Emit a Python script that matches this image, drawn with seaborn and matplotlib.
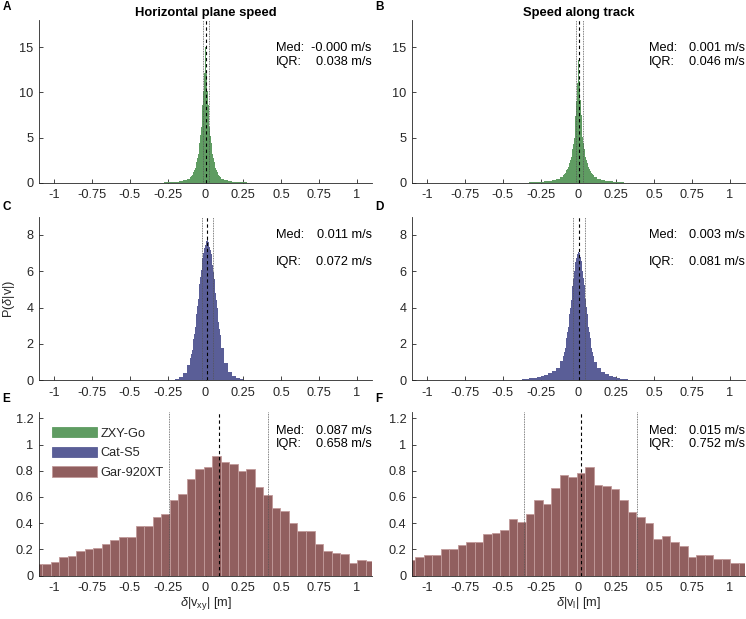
import numpy as np
import pandas as pd
import matplotlib
matplotlib.use("Agg")
import matplotlib.pyplot as plt
import seaborn as sns
from matplotlib.patches import Patch
from matplotlib.ticker import FuncFormatter

# ---------------- data ----------------
devices = ["ZXY-Go", "Cat-S5", "Gar-920XT"]
col_titles = ["Horizontal plane speed", "Speed along track"]
panel_letters = ["A", "B", "C", "D", "E", "F"]

# fine-bin histograms (64 bins, ascending x): 12 tail bins, 40 core bins, 12 tail bins
fine_edges = np.concatenate([np.linspace(-0.4, -0.1, 13)[:-1],
                             np.linspace(-0.1, 0.1, 41)[:-1],
                             np.linspace(0.1, 0.4, 13)])

zxy_horizontal = [0.002, 0.003, 0.005, 0.01, 0.02, 0.03, 0.05, 0.08, 0.13, 0.2, 0.3, 0.45,
                  0.60, 0.71, 0.84, 0.99, 1.17, 1.38, 1.63, 1.93, 2.28, 2.69, 3.18, 3.76, 4.44, 5.25, 6.20, 7.32, 8.65, 10.2, 12.1,
                  15.0, 14.2,
                  12.0, 10.1, 8.6, 7.3, 6.2, 5.2, 4.4, 3.75, 3.2, 2.7, 2.3, 1.95, 1.65, 1.4, 1.18, 1.0, 0.85, 0.72, 0.61,
                  0.45, 0.3, 0.2, 0.13, 0.08, 0.05, 0.03, 0.02, 0.01, 0.005, 0.003, 0.002]
zxy_track = [0.01, 0.015, 0.02, 0.03, 0.05, 0.08, 0.12, 0.17, 0.24, 0.33, 0.46, 0.65,
             0.85, 0.95, 1.07, 1.2, 1.35, 1.52, 1.72, 1.95, 2.2, 2.5, 2.8, 3.2, 3.7, 4.3, 5.0, 6.1, 7.4, 9.0, 11.0,
             13.6, 14.5,
             11.3, 9.2, 7.5, 6.2, 5.1, 4.35, 3.75, 3.25, 2.85, 2.5, 2.2, 1.95, 1.72, 1.5, 1.33, 1.18, 1.05, 0.93, 0.83,
             0.64, 0.44, 0.31, 0.22, 0.15, 0.09, 0.05, 0.03, 0.015, 0.008, 0.004, 0.002]
cat_horizontal = [0.002, 0.003, 0.004, 0.005, 0.007, 0.01, 0.02, 0.04, 0.09, 0.2, 0.42, 0.85,
                  1.22, 1.43, 1.68, 1.95, 2.25, 2.57, 2.91, 3.28, 3.66, 4.06, 4.46, 4.88, 5.28, 5.68, 6.06, 6.41, 6.74, 7.02, 7.26,
                  7.45, 7.59,
                  7.68, 7.72, 7.6, 7.5, 7.35, 7.18, 6.95, 6.67, 6.34, 5.98, 5.60, 5.20, 4.80, 4.39, 3.98, 3.58, 3.20, 2.84, 2.50,
                  1.75, 0.95, 0.45, 0.22, 0.11, 0.05, 0.02, 0.01, 0.005, 0.003, 0.002, 0.001]
cat_track = [0.04, 0.06, 0.08, 0.1, 0.13, 0.18, 0.22, 0.3, 0.38, 0.5, 0.7, 1.05,
             1.35, 1.55, 1.8, 2.05, 2.35, 2.65, 2.95, 3.3, 3.65, 4.0, 4.4, 4.8, 5.2, 5.6, 6.0, 6.25, 6.5, 6.75, 6.95,
             7.05, 7.2,
             7.0, 6.8, 6.55, 6.3, 6.0, 5.65, 5.25, 4.85, 4.45, 4.05, 3.65, 3.3, 2.95, 2.65, 2.35, 2.05, 1.8, 1.55, 1.35,
             1.0, 0.65, 0.45, 0.33, 0.25, 0.18, 0.12, 0.08, 0.05, 0.03, 0.02, 0.01]

# coarse-bin histograms (40 bins)
coarse_edges = np.linspace(-1.1344, -1.1344 + 40 * 0.0562, 41)
gar_horizontal = [0.09, 0.09, 0.108, 0.141, 0.147, 0.185, 0.203, 0.21, 0.24, 0.275,
                  0.295, 0.295, 0.377, 0.382, 0.449, 0.472, 0.575, 0.626, 0.736, 0.813,
                  0.826, 0.916, 0.865, 0.855, 0.797, 0.81, 0.673, 0.618, 0.518, 0.492,
                  0.402, 0.343, 0.337, 0.245, 0.187, 0.17, 0.162, 0.1, 0.12, 0.11]
gar_track = [0.12, 0.145, 0.155, 0.155, 0.205, 0.20, 0.235, 0.255, 0.255, 0.32,
             0.325, 0.345, 0.43, 0.41, 0.47, 0.58, 0.55, 0.665, 0.765, 0.755,
             0.78, 0.825, 0.69, 0.685, 0.66, 0.58, 0.485, 0.445, 0.40, 0.28,
             0.30, 0.26, 0.225, 0.145, 0.155, 0.16, 0.125, 0.13, 0.10, 0.10]

medians = [0.0, 0.001, 0.011, 0.003, 0.087, 0.015]
q1_vals = [-0.018, -0.019, -0.024, -0.036, -0.244, -0.362]
q3_vals = [0.020, 0.027, 0.048, 0.045, 0.414, 0.389]
med_labels = ["-0.000", "0.001", "0.011", "0.003", "0.087", "0.015"]
iqr_labels = ["0.038", "0.046", "0.072", "0.081", "0.658", "0.752"]

x_ticks = [-1, -0.75, -0.5, -0.25, 0, 0.25, 0.5, 0.75, 1]

# ---------------- style ----------------
sns.set_theme(style="ticks")
plt.rcParams['font.family'] = ['Liberation Sans', 'DejaVu Sans']
plt.rcParams['axes.unicode_minus'] = False
plt.rcParams['mathtext.fontset'] = 'custom'
plt.rcParams['mathtext.rm'] = 'Liberation Sans'
plt.rcParams['mathtext.it'] = 'Liberation Sans:italic'

FS = 9.2
dark = "#262626"
colors = ["#5f9c62", "#5a5e97", "#915f5f"]
edge_colors = ["#5f9c62", "#5a5e97", "#c29a9a"]

W, H = 746, 619
fig = plt.figure(figsize=(W / 100, H / 100), dpi=100)

col_left = [39, 412]
ax_w = 333
rows = [(20, 182.7), (216.7, 380.3), (411.7, 575.7)]
ylims = [(0, 18), (0, 9), (0, 1.25)]
yticks = [[0, 5, 10, 15], [0, 2, 4, 6, 8], [0, 0.2, 0.4, 0.6, 0.8, 1, 1.2]]
text_y = [(0.83, 0.744), (0.89, 0.723), (0.88, 0.806)]

hist_data = [(fine_edges, zxy_horizontal, 0), (fine_edges, zxy_track, 0),
             (fine_edges, cat_horizontal, 1), (fine_edges, cat_track, 1),
             (coarse_edges, gar_horizontal, 2), (coarse_edges, gar_track, 2)]

fmt = FuncFormatter(lambda v, p: "%g" % v)
axes = []
for i in range(6):
    r, c = divmod(i, 2)
    top, bot = rows[r]
    ax = fig.add_axes([col_left[c] / W, 1 - bot / H, ax_w / W, (bot - top) / H])
    axes.append(ax)
    edges, heights, dev = hist_data[i]
    centers = (edges[:-1] + edges[1:]) / 2
    df = pd.DataFrame({"x": centers, "w": heights})
    bin_list = [float(e) for e in edges]
    if dev < 2:
        sns.histplot(data=df, x="x", weights="w", bins=bin_list, stat="count",
                     element="step", fill=True, color=colors[dev], alpha=1,
                     linewidth=0, ax=ax)
    else:
        sns.histplot(data=df, x="x", weights="w", bins=bin_list, stat="count",
                     element="bars", fill=True, color=colors[dev], alpha=1,
                     edgecolor=edge_colors[dev], linewidth=0.6, ax=ax)
    ax.axvline(medians[i], color="black", lw=0.8, ls=(0, (3, 2.5)), zorder=5)
    for q in (q1_vals[i], q3_vals[i]):
        ax.axvline(q, color="#555555", lw=0.6, ls=(0, (1, 1)), zorder=5)
    ax.set_xlim(-1.1, 1.1)
    ax.set_ylim(*ylims[r])
    ax.set_xticks(x_ticks)
    ax.set_yticks(yticks[r])
    ax.xaxis.set_major_formatter(fmt)
    ax.yaxis.set_major_formatter(fmt)
    ax.set_xlabel("")
    ax.set_ylabel("")
    for s in ("top", "right"):
        ax.spines[s].set_visible(False)
    for s in ("left", "bottom"):
        ax.spines[s].set_linewidth(0.6)
        ax.spines[s].set_color(dark)
    ax.tick_params(direction="in", length=3, width=0.6, colors=dark,
                   labelsize=FS, pad=4)
    ax.tick_params(axis="x", pad=4.5)
    ty1, ty2 = text_y[r]
    ax.text(0.712, ty1, "Med:", transform=ax.transAxes, ha="left", va="center", fontsize=FS, color="black")
    ax.text(0.999, ty1, f"{med_labels[i]} m/s", transform=ax.transAxes, ha="right", va="center", fontsize=FS, color="black")
    ax.text(0.712, ty2, "IQR:", transform=ax.transAxes, ha="left", va="center", fontsize=FS, color="black")
    ax.text(0.999, ty2, f"{iqr_labels[i]} m/s", transform=ax.transAxes, ha="right", va="center", fontsize=FS, color="black")

# titles
for c in range(2):
    fig.text((col_left[c] + ax_w / 2) / W, 1 - 12.7 / H, col_titles[c],
             ha="center", va="center", fontsize=9.4, fontweight="bold", color="black")

# panel letters
letter_pos = [(2.7, 6.7), (375.7, 6.7), (2.7, 207), (375.7, 207), (2.7, 399), (375.7, 399)]
for lab, (px, py) in zip(panel_letters, letter_pos):
    fig.text(px / W, 1 - py / H, lab, ha="left", va="center", fontsize=8.5, fontweight="bold", color="black")

# axis labels
axes[2].set_ylabel(r"P($\delta$|v|)", fontsize=FS, color=dark)
axes[2].yaxis.set_label_coords(-0.065, 0.5)
axes[4].set_xlabel(r"$\delta$|v$_{\rm xy}$| [m]", fontsize=FS, color=dark, labelpad=1)
axes[5].set_xlabel(r"$\delta$|v$_{\rm l}$| [m]", fontsize=FS, color=dark, labelpad=1)

# legend
handles = [Patch(facecolor=colors[k], edgecolor=edge_colors[k], linewidth=0.6) for k in range(3)]
axes[4].legend(handles, devices, loc="upper left", bbox_to_anchor=(0.039, 0.905),
               frameon=False, fontsize=FS, handlelength=3.5, handleheight=0.85,
               handletextpad=0.3, labelspacing=0.55, borderpad=0, borderaxespad=0)

fig.savefig("out.png", dpi=100)
